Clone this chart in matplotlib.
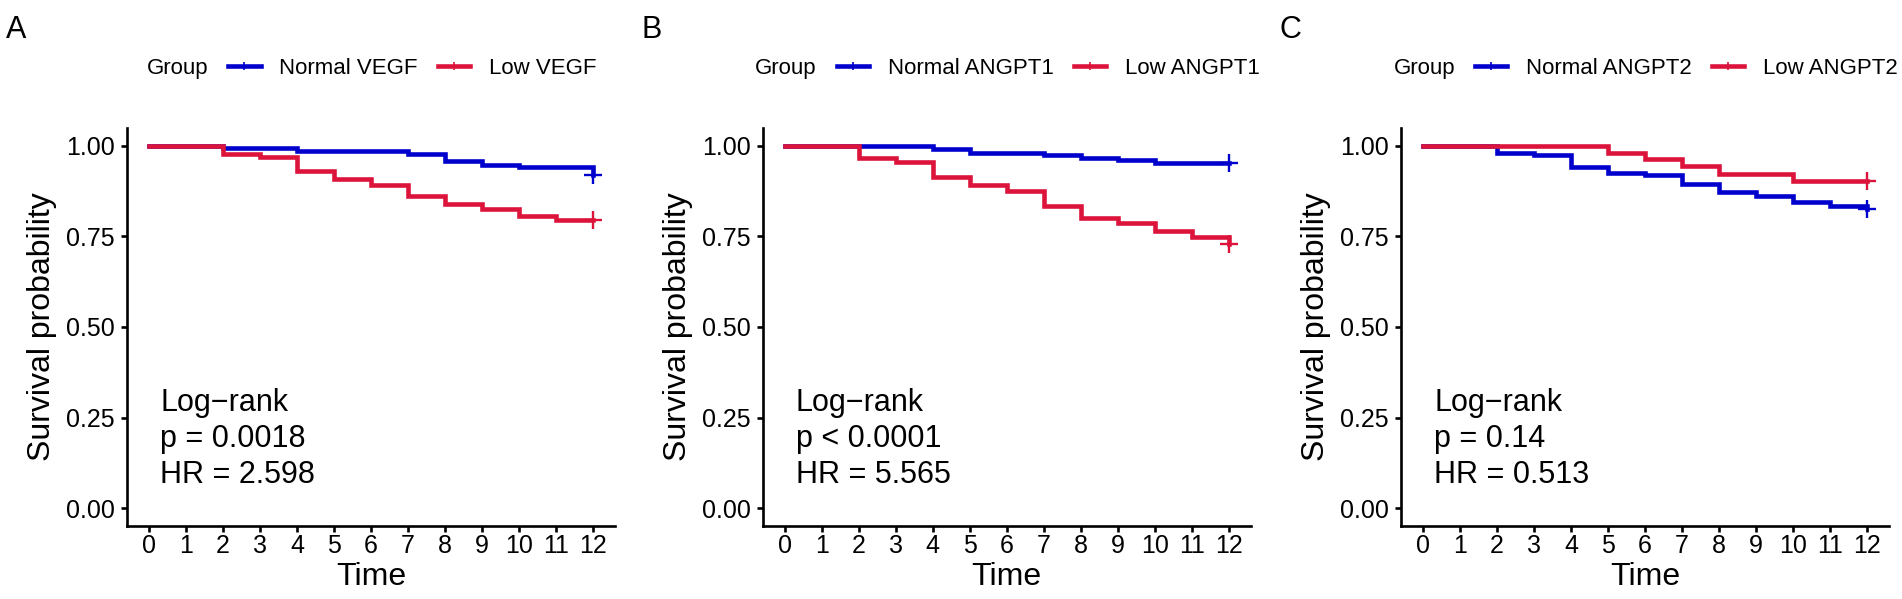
import matplotlib
matplotlib.use("Agg")
import matplotlib.pyplot as plt
from matplotlib.lines import Line2D
import numpy as np

plt.rcParams['font.family'] = ['Liberation Sans', 'DejaVu Sans']

# ---------------- data ----------------
panel_letters = ["A", "B", "C"]
normal_labels = ["Normal VEGF", "Normal ANGPT1", "Normal ANGPT2"]
low_labels = ["Low VEGF", "Low ANGPT1", "Low ANGPT2"]
stat_lines = [
    ["Log\u2212rank", "p = 0.0018", "HR = 2.598"],
    ["Log\u2212rank", "p < 0.0001", "HR = 5.565"],
    ["Log\u2212rank", "p = 0.14", "HR = 0.513"],
]
time_ticks = list(range(0, 13))
surv_ticks = [0.00, 0.25, 0.50, 0.75, 1.00]

# Panel A
a_normal_t = [0, 2, 4, 7, 8, 9, 10, 12]
a_normal_s = [1.0, 0.993, 0.986, 0.978, 0.957, 0.948, 0.941, 0.919]
a_low_t = [0, 2, 3, 4, 5, 6, 7, 8, 9, 10, 11, 12]
a_low_s = [1.0, 0.977, 0.968, 0.931, 0.907, 0.892, 0.860, 0.840, 0.826, 0.806, 0.794, 0.794]

# Panel B
b_normal_t = [0, 4, 5, 7, 8, 9, 10, 12]
b_normal_s = [1.0, 0.990, 0.979, 0.974, 0.965, 0.960, 0.953, 0.953]
b_low_t = [0, 2, 3, 4, 5, 6, 7, 8, 9, 10, 11, 12]
b_low_s = [1.0, 0.967, 0.956, 0.914, 0.891, 0.874, 0.833, 0.801, 0.786, 0.766, 0.749, 0.729]

# Panel C
c_normal_t = [0, 2, 3, 4, 5, 6, 7, 8, 9, 10, 11, 12]
c_normal_s = [1.0, 0.981, 0.974, 0.942, 0.925, 0.918, 0.895, 0.872, 0.860, 0.846, 0.835, 0.826]
c_low_t = [0, 5, 6, 7, 8, 10, 12]
c_low_s = [1.0, 0.981, 0.963, 0.944, 0.923, 0.903, 0.903]

censor_times = [12]

series = [
    (a_normal_t, a_normal_s, a_low_t, a_low_s),
    (b_normal_t, b_normal_s, b_low_t, b_low_s),
    (c_normal_t, c_normal_s, c_low_t, c_low_s),
]

col_normal = "#0000CD"
col_low = "#DC143C"

W, H = 1902, 599
fig = plt.figure(figsize=(W / 100, H / 100), dpi=100)

ax_left_px = [126.8, 762.5, 1400.8]
ax_w_px = 488.6
ax_top_px = 127.6
ax_bot_px = 526.4


def surv_at(t_arr, s_arr, t):
    idx = np.searchsorted(np.asarray(t_arr), t, side="right") - 1
    return s_arr[idx]


for i in range(3):
    nt, ns, lt, ls = series[i]
    ax = fig.add_axes([ax_left_px[i] / W, 1 - ax_bot_px / H, ax_w_px / W, (ax_bot_px - ax_top_px) / H])
    ax.step(nt, ns, where="post", color=col_normal, lw=3.3, solid_joinstyle="miter")
    ax.step(lt, ls, where="post", color=col_low, lw=3.3, solid_joinstyle="miter")
    for ct in censor_times:
        ax.plot([ct], [surv_at(nt, ns, ct)], marker="+", ms=13, mew=1.7, color=col_normal, ls="none")
        ax.plot([ct], [surv_at(lt, ls, ct)], marker="+", ms=13, mew=1.7, color=col_low, ls="none")

    ax.set_xlim(-0.6, 12.6)
    ax.set_ylim(-0.05, 1.05)
    ax.set_xticks(time_ticks)
    ax.set_xticklabels([str(t) for t in time_ticks])
    ax.set_yticks(surv_ticks)
    ax.set_yticklabels(["%.2f" % v for v in surv_ticks])
    for sp in ["top", "right"]:
        ax.spines[sp].set_visible(False)
    for sp in ["left", "bottom"]:
        ax.spines[sp].set_linewidth(1.9)
    ax.tick_params(axis="both", length=4, width=1.9, labelsize=18, colors="black")
    ax.tick_params(axis="y", pad=4.5)
    ax.tick_params(axis="x", pad=1.5)
    ax.set_xlabel("Time", fontsize=23, labelpad=3)
    ax.set_ylabel("Survival probability", fontsize=23, labelpad=6.5)

    # stats annotation
    ys = [0.268, 0.170, 0.069]
    for txt, yv in zip(stat_lines[i], ys):
        ax.text(0.3, yv, txt, fontsize=22, va="baseline", ha="left")

    # panel letter
    fig.text((ax_left_px[i] - 121) / W, 1 - 15.5 / H, panel_letters[i], fontsize=22,
             va="top", ha="left")

    # legend (title inline on the left)
    handles = [
        Line2D([], [], ls="none"),
        Line2D([], [], color=col_normal, lw=3.3, marker="+", ms=6, mew=1.2),
        Line2D([], [], color=col_low, lw=3.3, marker="+", ms=6, mew=1.2),
    ]
    labels = ["Group", normal_labels[i], low_labels[i]]
    center_px = ax_left_px[i] + ax_w_px / 2 - 25
    leg = ax.legend(handles, labels, loc="center", ncol=3, frameon=False,
                    bbox_to_anchor=(center_px / W, 1 - 68.3 / H), bbox_transform=fig.transFigure,
                    fontsize=16, handlelength=1.45, handletextpad=0.85, columnspacing=0.9,
                    borderpad=0, borderaxespad=0)

fig.savefig("out.png", dpi=100)
